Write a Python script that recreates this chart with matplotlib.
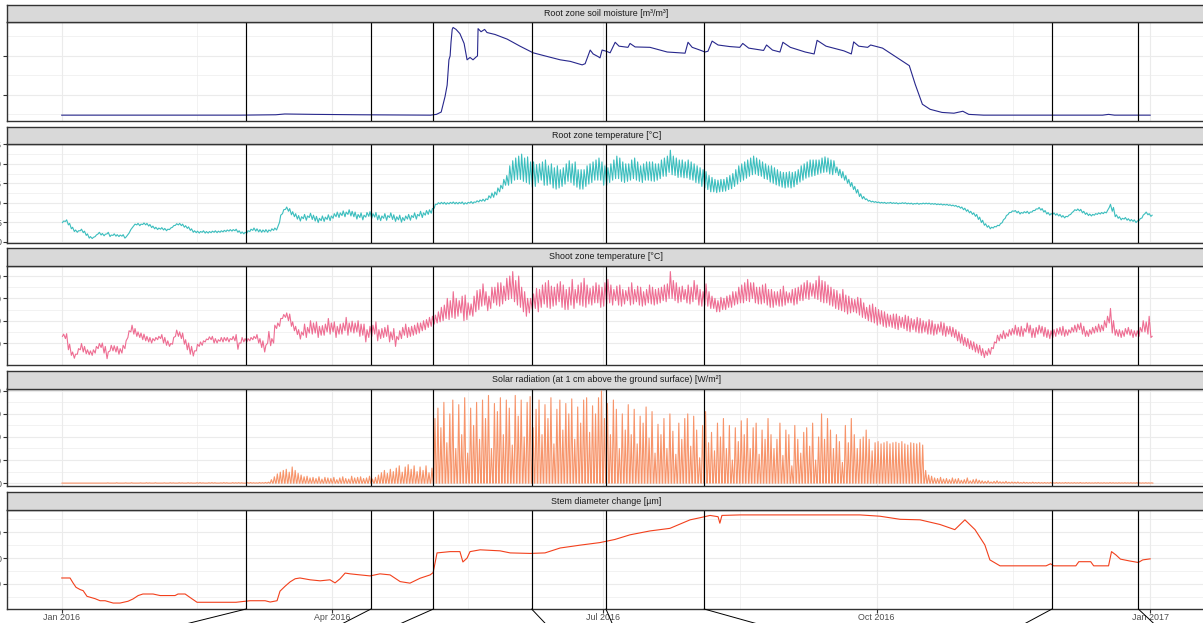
import numpy as np
import matplotlib
matplotlib.use("Agg")
import matplotlib.pyplot as plt
import matplotlib.dates as mdates
from matplotlib.ticker import FixedLocator, FixedFormatter

plt.rcParams['font.family'] = ['Liberation Sans', 'DejaVu Sans']

# ---------------------------------------------------------------- data
start_date = np.datetime64('2016-01-01T00:00')

panel_titles = [
    "Root zone soil moisture [m\u00b3/m\u00b3]",
    "Root zone temperature [\u00b0C]",
    "Shoot zone temperature [\u00b0C]",
    "Solar radiation (at 1 cm above the ground surface) [W/m\u00b2]",
    "Stem diameter change [\u00b5m]",
]

event_dates = ['2016-03-03', '2016-04-14', '2016-05-05', '2016-06-07',
               '2016-07-02', '2016-08-04', '2016-11-29', '2016-12-28']

x_tick_dates = ['2016-01-01', '2016-04-01', '2016-07-01', '2016-10-01', '2017-01-01']
x_tick_labels = ['Jan 2016', 'Apr 2016', 'Jul 2016', 'Oct 2016', 'Jan 2017']

# soil moisture (days since 2016-01-01, m3/m3)
soil_days = [0, 60, 72, 75, 85, 100, 124, 126, 127.6, 128.9, 129.6, 130.2, 130.6, 130.9,
             131.3, 131.6, 132.6, 133.9, 135.3, 136.3, 137.3, 138.3, 139.3, 139.8, 140.0,
             141.0, 142.2, 143.0, 145.7, 149.8, 154.1, 158.5, 162.5, 167.6, 171.0, 175.0,
             176.0, 177.7, 178.7, 180.4, 181.0, 181.7, 183.1, 184.4, 186.1, 187.4, 190.4,
             191.1, 192.8, 197.8, 203.6, 209.6, 210.6, 212.0, 214.6, 216.3, 217.3, 218.7,
             220.7, 224.6, 228, 229, 231, 236, 237, 239, 241.5, 242.5, 245, 250, 253, 254,
             257, 263, 265.5, 266.3, 268, 271, 272, 276, 282, 285, 287, 289.4, 292, 296,
             300, 303, 305, 310, 350, 352, 354, 366]
soil_vwc = [0.048, 0.048, 0.049, 0.051, 0.050, 0.049, 0.048, 0.050, 0.056, 0.096, 0.125,
            0.190, 0.200, 0.235, 0.268, 0.273, 0.268, 0.257, 0.232, 0.190, 0.196, 0.190,
            0.197, 0.200, 0.270, 0.262, 0.268, 0.260, 0.255, 0.243, 0.225, 0.208, 0.200,
            0.190, 0.186, 0.177, 0.180, 0.215, 0.205, 0.198, 0.195, 0.215, 0.212, 0.208,
            0.235, 0.225, 0.222, 0.232, 0.223, 0.222, 0.210, 0.207, 0.235, 0.222, 0.215,
            0.210, 0.212, 0.238, 0.228, 0.224, 0.222, 0.232, 0.220, 0.214, 0.228, 0.215,
            0.210, 0.235, 0.222, 0.210, 0.205, 0.240, 0.225, 0.213, 0.205, 0.236, 0.225,
            0.222, 0.228, 0.220, 0.190, 0.175, 0.127, 0.076, 0.063, 0.055, 0.053, 0.058,
            0.050, 0.048, 0.048, 0.050, 0.048, 0.048]

# root zone temperature: daily max and min from 2016-01-01 (degC)
root_tmax = [
    5.3, 5.6, 4.7, 3.7, 3.0, 2.8, 3.2, 2.7, 2.0, 1.3,
    1.1, 1.7, 2.4, 2.1, 1.9, 2.4, 1.7, 2.0, 1.8, 1.7,
    1.8, 1.2, 2.2, 3.5, 4.5, 4.7, 4.5, 4.8, 4.7, 4.4,
    4.0, 3.7, 3.5, 3.6, 3.4, 3.2, 3.5, 4.1, 4.6, 4.7,
    4.5, 4.1, 3.8, 3.3, 2.8, 2.7, 2.6, 2.8, 2.6, 2.6,
    2.7, 2.8, 2.7, 2.8, 2.9, 3.0, 3.1, 3.1, 3.2, 2.8,
    2.5, 2.4, 2.8, 3.2, 3.5, 3.3, 3.1, 3.0, 3.1, 3.0,
    3.3, 3.5, 3.8, 6.8, 8.2, 8.9, 8.5, 7.7, 7.2, 6.7,
    6.4, 7.0, 6.6, 7.3, 6.8, 6.5, 6.0, 6.6, 6.3, 6.9,
    6.6, 7.2, 7.6, 7.4, 7.9, 7.6, 8.2, 7.8, 7.6, 7.0,
    7.4, 6.8, 7.5, 7.7, 7.2, 7.5, 6.8, 6.6, 7.2, 6.7,
    7.4, 6.9, 6.4, 6.8, 6.2, 6.6, 7.0, 6.7, 7.4, 7.0,
    7.8, 7.4, 8.0, 8.2, 8.5, 9.6, 10.0, 10.1, 10.1, 10.0,
    10.1, 10.2, 10.1, 10.1, 10.2, 10.0, 10.1, 10.3, 10.2, 10.5,
    10.7, 10.9, 11.0, 11.8, 12.5, 12.8, 13.8, 14.5, 16.0, 17.0,
    19.5, 20.8, 21.5, 22.0, 22.5, 21.5, 21.8, 20.5, 20.5, 19.8,
    20.0, 20.5, 21.0, 19.5, 20.0, 19.0, 19.5, 18.5, 19.0, 20.0,
    20.8, 20.0, 20.5, 18.5, 18.5, 18.5, 19.5, 20.0, 20.5, 21.0,
    21.5, 20.5, 19.5, 19.0, 20.0, 21.0, 22.0, 21.5, 20.5, 20.0,
    20.0, 21.0, 21.5, 20.5, 19.5, 20.0, 20.5, 20.5, 20.5, 20.0,
    20.0, 21.0, 21.5, 22.0, 23.5, 22.0, 21.5, 21.0, 21.0, 20.5,
    21.0, 20.5, 20.0, 19.5, 19.0, 18.5, 18.0, 17.0, 16.5, 16.0,
    15.8, 16.0, 16.0, 16.5, 17.0, 17.5, 18.5, 19.5, 20.0, 20.5,
    21.0, 21.5, 22.0, 21.5, 21.0, 20.5, 20.0, 19.5, 19.5, 19.0,
    18.5, 18.0, 17.8, 17.8, 18.0, 17.8, 18.0, 18.5, 19.5, 20.0,
    20.5, 21.0, 21.0, 21.0, 21.0, 21.5, 21.8, 21.5, 21.0, 20.8,
    19.2, 18.6, 18.0, 17.0, 16.0, 15.2, 14.2, 13.4, 12.3, 11.6,
    11.0, 10.6, 10.4, 10.3, 10.2, 10.1, 10.1, 10.0, 10.1, 10.0,
    10.0, 9.9, 10.0, 10.0, 9.9, 9.9, 9.8, 9.9, 9.8, 9.9,
    9.9, 9.9, 9.8, 9.8, 9.7, 9.7, 9.6, 9.6, 9.5, 9.4,
    9.3, 9.1, 8.9, 8.6, 8.2, 7.8, 7.4, 7.0, 6.3, 5.5,
    4.6, 4.1, 3.7, 3.9, 4.2, 4.6, 5.6, 6.7, 7.5, 7.9,
    8.0, 7.8, 7.5, 7.7, 7.8, 7.6, 8.0, 8.4, 8.8, 8.5,
    8.0, 7.5, 7.2, 7.4, 7.2, 7.0, 6.7, 6.5, 6.8, 7.4,
    8.2, 8.4, 8.3, 7.8, 7.4, 7.1, 7.0, 7.2, 7.4, 7.5,
    7.6, 8.0, 9.6, 8.8, 6.9, 6.4, 6.0, 6.2, 5.9, 5.7,
    5.6, 5.3, 5.9, 6.8, 7.6, 7.2, 6.8,
]
root_tmin = [
    4.9, 5.2, 4.3, 3.3, 2.6, 2.4, 2.8, 2.3, 1.6, 0.9,
    0.8, 1.3, 2.0, 1.7, 1.5, 2.0, 1.3, 1.6, 1.4, 1.3,
    1.4, 0.9, 1.8, 3.1, 4.1, 4.3, 4.1, 4.4, 4.3, 4.0,
    3.6, 3.3, 3.1, 3.2, 3.0, 2.8, 3.1, 3.7, 4.2, 4.3,
    4.1, 3.7, 3.4, 2.9, 2.4, 2.3, 2.2, 2.4, 2.2, 2.2,
    2.3, 2.4, 2.3, 2.4, 2.5, 2.6, 2.7, 2.7, 2.8, 2.4,
    2.1, 2.0, 2.2, 2.6, 2.9, 2.7, 2.5, 2.4, 2.5, 2.4,
    2.7, 2.9, 3.0, 5.0, 7.2, 8.3, 7.8, 6.9, 6.4, 5.8,
    5.3, 5.9, 5.5, 6.2, 5.7, 5.3, 4.9, 5.4, 5.2, 5.7,
    5.4, 6.0, 6.4, 6.2, 6.7, 6.4, 7.0, 6.6, 6.4, 5.8,
    6.2, 5.6, 6.3, 6.5, 6.0, 6.3, 5.6, 5.4, 6.0, 5.5,
    6.2, 5.7, 5.2, 5.6, 5.0, 5.4, 5.8, 5.5, 6.2, 5.8,
    6.6, 6.2, 6.8, 7.0, 7.3, 8.6, 9.6, 9.7, 9.7, 9.6,
    9.7, 9.8, 9.7, 9.7, 9.8, 9.6, 9.7, 9.9, 9.8, 10.1,
    10.2, 10.4, 10.4, 10.8, 11.2, 11.4, 12.0, 12.8, 13.6, 14.5,
    14.5, 15.0, 15.8, 16.0, 16.0, 15.5, 15.2, 14.8, 14.0, 14.2,
    15.2, 15.8, 14.5, 14.5, 14.8, 13.8, 13.5, 13.8, 14.2, 14.8,
    15.5, 15.2, 14.5, 14.0, 13.5, 13.5, 14.2, 14.8, 15.2, 15.8,
    15.8, 15.8, 14.5, 14.5, 15.2, 15.8, 16.2, 16.2, 15.5, 15.2,
    15.5, 15.8, 16.2, 15.8, 15.5, 15.2, 15.8, 15.8, 15.6, 15.5,
    15.8, 16.2, 16.8, 16.8, 17.8, 17.2, 17.0, 16.5, 16.6, 16.4,
    16.4, 16.0, 15.8, 15.2, 15.0, 14.2, 13.8, 13.4, 12.8, 12.8,
    12.6, 12.8, 12.9, 13.0, 13.4, 13.6, 14.2, 14.8, 15.4, 15.8,
    16.3, 16.8, 17.2, 17.4, 17.0, 16.8, 16.2, 16.0, 15.3, 15.0,
    14.6, 14.3, 14.0, 13.8, 14.0, 13.8, 14.1, 14.7, 15.3, 15.8,
    16.3, 16.6, 16.8, 17.0, 17.3, 17.6, 17.8, 17.9, 17.4, 17.2,
    17.7, 17.0, 16.4, 15.8, 15.0, 14.2, 13.4, 12.5, 11.6, 11.0,
    10.8, 10.4, 10.2, 10.1, 10.0, 9.9, 9.9, 9.8, 9.9, 9.8,
    9.8, 9.7, 9.8, 9.8, 9.7, 9.7, 9.6, 9.7, 9.6, 9.7,
    9.7, 9.7, 9.6, 9.6, 9.5, 9.5, 9.4, 9.4, 9.3, 9.2,
    9.1, 8.9, 8.6, 8.2, 7.8, 7.4, 7.0, 6.5, 5.7, 4.9,
    4.2, 3.7, 3.3, 3.5, 3.8, 4.1, 4.9, 6.0, 7.0, 7.5,
    7.8, 7.4, 7.1, 7.3, 7.4, 7.2, 7.6, 8.0, 8.4, 8.1,
    7.6, 7.1, 6.8, 7.0, 6.8, 6.6, 6.3, 6.1, 6.4, 7.0,
    7.8, 8.0, 7.9, 7.4, 7.0, 6.7, 6.6, 6.8, 7.0, 7.1,
    7.2, 7.4, 8.8, 7.8, 6.4, 6.0, 5.6, 5.8, 5.5, 5.3,
    5.2, 4.9, 5.4, 6.1, 7.2, 6.9, 6.5,
]

# shoot zone temperature: daily max and min (degC)
shoot_tmax = [
    14.0, 14.2, 9.5, 6.0, 5.0, 7.5, 9.8, 8.5, 7.0, 6.5,
    7.0, 8.5, 9.8, 10.0, 8.5, 6.0, 9.0, 8.8, 8.5, 7.5,
    9.0, 11.0, 15.5, 18.0, 16.5, 15.0, 14.5, 14.0, 13.0, 12.5,
    12.0, 12.5, 13.0, 13.8, 12.5, 11.0, 9.8, 12.5, 15.8, 15.0,
    14.5, 11.5, 10.0, 8.5, 6.5, 9.5, 10.5, 11.0, 11.8, 12.8,
    13.0, 12.0, 11.5, 12.5, 12.5, 12.5, 12.0, 13.0, 13.8, 10.0,
    12.5, 12.0, 12.0, 12.5, 13.0, 13.8, 12.0, 11.0, 9.0, 15.2,
    12.0, 18.0, 19.0, 21.0, 22.8, 23.5, 23.0, 19.5, 17.5, 16.0,
    15.0, 18.5, 17.0, 20.0, 19.0, 19.5, 17.5, 17.8, 18.5, 21.0,
    19.0, 19.5, 17.5, 18.5, 19.0, 21.5, 19.0, 19.8, 19.0, 20.0,
    18.5, 18.5, 16.0, 17.5, 18.0, 19.5, 16.0, 16.5, 17.0, 18.0,
    15.0, 16.5, 13.0, 15.5, 17.0, 18.5, 17.0, 17.5, 18.0, 19.0,
    19.0, 20.0, 20.5, 21.5, 22.0, 22.5, 24.0, 26.0, 27.0, 30.0,
    29.0, 33.0, 30.0, 29.0, 31.0, 31.5, 28.0, 27.5, 31.0, 33.5,
    34.0, 36.5, 33.0, 31.0, 35.0, 35.0, 37.0, 37.0, 35.5, 39.0,
    40.0, 42.0, 38.0, 40.0, 35.0, 33.0, 30.0, 30.0, 32.0, 34.5,
    34.0, 36.0, 37.0, 38.0, 35.5, 35.0, 36.5, 37.5, 36.0, 34.0,
    35.0, 38.5, 34.0, 36.0, 37.0, 39.0, 36.0, 34.5, 35.5, 37.0,
    36.0, 35.0, 37.0, 38.5, 36.0, 34.0, 35.5, 36.0, 34.0, 33.5,
    35.0, 37.0, 34.0, 35.5, 35.0, 33.0, 34.0, 36.0, 35.0, 34.0,
    34.5, 35.0, 36.0, 36.5, 42.0, 38.0, 37.0, 35.0, 35.5, 34.0,
    36.0, 35.0, 38.0, 36.0, 34.0, 33.0, 36.5, 33.0, 31.0, 30.0,
    29.0, 30.5, 30.0, 31.0, 31.5, 33.0, 33.0, 35.0, 36.0, 37.0,
    38.5, 37.0, 37.0, 35.0, 35.0, 36.0, 36.5, 34.0, 34.0, 33.0,
    33.0, 34.0, 35.5, 33.0, 32.5, 34.0, 34.5, 35.0, 36.0, 37.0,
    38.0, 37.0, 36.5, 38.0, 40.0, 38.0, 37.5, 36.0, 35.0, 34.0,
    33.5, 32.0, 34.0, 31.5, 31.0, 30.0, 29.5, 30.5, 30.0, 28.0,
    26.0, 27.0, 27.5, 26.0, 25.0, 24.5, 24.0, 23.0, 22.5, 23.0,
    23.0, 22.0, 21.5, 22.5, 22.0, 21.0, 20.5, 21.5, 21.0, 20.0,
    19.5, 20.5, 20.0, 18.5, 18.5, 19.5, 19.0, 17.5, 17.5, 17.0,
    16.0, 15.0, 14.0, 12.5, 12.0, 11.0, 10.5, 9.5, 9.0, 7.5,
    6.5, 7.5, 8.0, 10.5, 13.5, 14.0, 15.5, 14.5, 16.0, 16.5,
    18.0, 17.0, 17.5, 16.5, 19.0, 18.0, 16.5, 17.0, 18.0, 17.5,
    17.0, 16.0, 15.5, 16.0, 16.5, 17.0, 17.5, 16.0, 16.0, 17.0,
    18.0, 18.5, 19.0, 17.5, 15.5, 16.0, 17.0, 17.5, 18.5, 18.0,
    20.0, 22.0, 25.5, 20.0, 16.0, 16.0, 15.5, 16.5, 17.0, 16.0,
    15.5, 15.5, 17.0, 20.0, 19.5, 22.0, 13.0,
]
shoot_tmin = [
    13.0, 12.0, 7.0, 4.5, 3.2, 5.0, 7.0, 6.0, 5.2, 4.8,
    4.5, 5.5, 7.5, 8.0, 5.5, 3.0, 6.5, 6.5, 6.0, 5.0,
    5.5, 7.5, 12.5, 15.0, 14.0, 13.0, 12.5, 11.5, 11.0, 10.5,
    10.0, 11.0, 11.5, 12.0, 10.0, 9.0, 8.5, 9.5, 13.0, 13.0,
    12.0, 9.5, 7.0, 5.0, 4.2, 6.5, 8.5, 9.0, 10.5, 11.5,
    11.5, 10.0, 10.0, 10.8, 10.5, 11.0, 10.5, 11.5, 11.0, 7.2,
    10.0, 10.5, 10.5, 11.0, 11.5, 12.0, 10.0, 8.0, 6.0, 10.0,
    8.8, 10.0, 16.5, 17.5, 21.0, 21.5, 20.0, 17.5, 15.5, 13.8,
    11.8, 13.5, 12.5, 14.5, 14.0, 14.5, 12.5, 13.5, 13.5, 15.0,
    14.0, 15.0, 12.5, 14.0, 14.0, 15.5, 13.5, 15.0, 14.5, 15.0,
    13.0, 13.5, 10.5, 12.5, 13.0, 14.0, 11.0, 12.0, 12.5, 13.0,
    10.5, 11.5, 8.5, 11.5, 12.0, 13.5, 12.5, 13.0, 13.5, 14.0,
    14.5, 15.5, 16.0, 17.0, 17.5, 18.5, 19.0, 19.5, 20.0, 21.0,
    20.5, 21.5, 21.0, 22.0, 23.5, 20.0, 20.5, 22.5, 22.0, 24.0,
    25.0, 26.5, 27.0, 24.5, 25.5, 28.0, 27.0, 26.5, 27.5, 29.0,
    29.5, 30.0, 28.5, 27.0, 26.0, 24.0, 22.0, 23.5, 25.0, 25.5,
    24.0, 26.0, 27.5, 26.0, 25.5, 26.5, 27.0, 28.5, 26.0, 25.0,
    25.0, 27.0, 25.5, 28.0, 27.0, 26.5, 26.0, 27.5, 27.0, 28.0,
    28.0, 26.0, 26.5, 27.5, 28.0, 27.0, 29.0, 27.0, 26.5, 27.5,
    29.0, 27.0, 27.5, 28.5, 27.0, 26.5, 27.0, 28.0, 27.5, 27.0,
    27.5, 28.0, 29.0, 28.5, 30.0, 30.0, 29.0, 28.0, 28.5, 29.5,
    28.0, 27.5, 28.5, 29.5, 27.0, 26.5, 27.0, 26.5, 25.5, 25.5,
    24.0, 24.0, 25.0, 25.0, 26.0, 26.0, 27.0, 27.5, 28.0, 28.0,
    29.0, 28.5, 30.0, 28.0, 27.5, 27.5, 28.0, 27.0, 26.0, 26.0,
    27.0, 26.5, 26.5, 27.0, 28.0, 28.0, 27.0, 27.5, 29.0, 29.0,
    30.0, 29.5, 31.0, 30.0, 29.5, 28.5, 28.0, 28.0, 27.0, 26.5,
    25.5, 25.0, 24.5, 24.0, 23.0, 23.5, 24.0, 23.5, 22.5, 21.5,
    21.0, 20.0, 19.5, 19.0, 18.0, 18.5, 17.5, 17.0, 17.5, 17.0,
    16.5, 16.0, 17.0, 16.5, 15.5, 15.0, 16.0, 15.0, 14.5, 14.5,
    15.0, 14.0, 14.0, 13.5, 14.0, 15.0, 13.5, 13.0, 14.0, 13.0,
    12.5, 11.0, 10.0, 9.0, 8.5, 7.5, 7.0, 6.0, 5.5, 4.5,
    3.5, 4.5, 5.0, 7.5, 10.0, 11.0, 12.0, 12.0, 13.0, 13.5,
    14.0, 13.5, 13.0, 13.0, 15.0, 14.5, 12.5, 12.5, 14.0, 14.5,
    13.0, 12.5, 12.0, 12.5, 13.0, 14.0, 13.5, 13.0, 13.5, 14.5,
    15.0, 15.0, 16.0, 14.0, 13.0, 13.0, 14.0, 14.5, 15.0, 15.0,
    15.5, 17.0, 19.0, 14.5, 13.5, 13.0, 12.5, 13.0, 14.0, 13.5,
    12.5, 13.0, 13.0, 15.0, 15.0, 14.0, 12.5,
]

# solar radiation: daily noon peak (W/m2); night-time value
solar_peak = [
    0, 0, 0, 0, 0, 0, 0, 0, 0, 0,
    0, 0, 0, 0, 0, 2, 0, 0, 3, 0,
    0, 2, 0, 3, 0, 0, 2, 0, 3, 2,
    0, 3, 0, 0, 2, 0, 3, 2, 0, 3,
    2, 0, 3, 2, 0, 3, 4, 2, 0, 3,
    4, 3, 0, 2, 4, 3, 0, 4, 3, 4,
    3, 0, 4, 5, 3, 2, 5, 4, 6, 8,
    30, 55, 80, 95, 110, 120, 95, 140, 110, 85,
    70, 55, 60, 45, 50, 40, 55, 35, 50, 45,
    40, 50, 30, 45, 55, 40, 35, 60, 45, 50,
    55, 40, 45, 60, 35, 50, 70, 90, 110, 85,
    120, 100, 130, 150, 95, 140, 160, 120, 150, 100,
    140, 110, 150, 90, 130, 560, 650, 480, 700, 350,
    600, 720, 300, 680, 420, 740, 260, 650, 500, 700,
    380, 720, 560, 760, 300, 690, 620, 740, 420, 720,
    650, 330, 760, 580, 720, 400, 700, 750, 480, 640,
    720, 420, 680, 560, 740, 340, 640, 720, 460, 690,
    600, 730, 380, 660, 520, 720, 740, 440, 670, 600,
    740, 800, 560, 690, 420, 720, 640, 300, 600, 460,
    680, 420, 640, 340, 580, 520, 660, 390, 620, 260,
    510, 420, 560, 300, 600, 450, 250, 520, 380, 560,
    600, 320, 580, 460, 220, 500, 620, 350, 440, 280,
    520, 400, 560, 300, 500, 200, 480, 360, 540, 420,
    560, 300, 480, 520, 250, 460, 380, 560, 420, 300,
    380, 520, 240, 460, 420, 150, 500, 380, 260, 440,
    480, 320, 520, 200, 400, 600, 380, 560, 460, 300,
    420, 360, 180, 500, 350, 560, 420, 300, 380, 400,
    460, 380, 280, 350, 360, 340, 350, 360, 340, 350,
    355, 345, 360, 340, 330, 350, 345, 340, 350, 330,
    110, 70, 60, 45, 40, 50, 35, 40, 30, 45,
    35, 40, 25, 30, 45, 20, 30, 35, 25, 20,
    15, 20, 10, 15, 20, 12, 10, 15, 8, 10,
    8, 10, 5, 8, 6, 5, 8, 5, 6, 4,
    5, 4, 6, 3, 5, 4, 3, 5, 4, 3,
    4, 3, 5, 2, 4, 3, 2, 3, 4, 2,
    3, 2, 4, 3, 2, 3, 2, 3, 2, 3,
    2, 3, 2, 2, 3, 2, 2,
]
solar_night = 0.0

# stem diameter change (days since 2016-01-01, um)
stem_days = [0, 2.8, 3.8, 4.8, 6.2, 7.2, 8.5, 11.2, 12.9, 14.6, 17.3, 19.6, 22.3, 24.0,
             25.7, 27.3, 30.7, 33.1, 38.1, 39.1, 41.5, 43.1, 45.5, 58.6, 63.3, 68.4,
             70.1, 72.4, 73.4, 75.1, 76.8, 78.5, 80.1, 83.5, 86.9, 90.2, 91.9, 93.6,
             95.3, 97.0, 100.3, 103.7, 107.0, 110.4, 113.8, 117.1, 120.5, 123.9, 124.9,
             126.2, 130.6, 133.9, 134.9, 136.3, 137.3, 140.7, 147.4, 150.8, 157.5, 162.5,
             167.6, 174.3, 181.0, 186.0, 191.1, 197.8, 204.5, 211.3, 214.6, 218.0, 220.7,
             221.3, 222.0, 228.1, 268.4, 275.1, 281.9, 288.6, 295.3, 300.3, 303.7, 307.1,
             310.4, 312.1, 315.5, 331, 332.5, 333.5, 341, 342, 346, 347, 352, 353, 354.5,
             356, 359, 362, 363.5, 366]
stem_change = [-77, -77, -96, -113, -122, -126, -148, -157, -165, -165, -174, -174, -167,
               -158, -145, -139, -139, -145, -145, -139, -139, -152, -171, -171, -165, -165,
               -170, -165, -128, -109, -92, -80, -77, -84, -88, -84, -96, -80, -58, -61,
               -65, -69, -61, -65, -91, -97, -78, -65, -56, 20, 25, 25, -15, 0, 25, 32, 28,
               20, 18, 20, 39, 50, 60, 72, 90, 105, 115, 148, 156, 165, 160, 135, 165, 167,
               167, 162, 150, 148, 130, 110, 148, 110, 51, -7, -30, -30, -22, -30, -30, -14,
               -14, -30, -30, 25, 12, -4, -11, -17, -7, -3]


# ---------------------------------------------------------------- helpers
def to_num(days):
    mins = np.round(np.asarray(days, dtype=float) * 1440).astype('timedelta64[m]')
    return mdates.date2num(start_date + mins)


def min_max_series(tmin, tmax):
    d = np.arange(len(tmin))
    t = np.column_stack([d + 0.25, d + 0.65]).ravel()
    v = np.column_stack([np.asarray(tmin, float), np.asarray(tmax, float)]).ravel()
    return to_num(t), v


solar_d = np.arange(len(solar_peak))
solar_t = np.column_stack([solar_d + 0.1, solar_d + 0.5, solar_d + 0.9]).ravel()
solar_v = np.column_stack([np.full(len(solar_peak), solar_night),
                           np.asarray(solar_peak, float),
                           np.full(len(solar_peak), solar_night)]).ravel()

root_t, root_v = min_max_series(root_tmin, root_tmax)
shoot_t, shoot_v = min_max_series(shoot_tmin, shoot_tmax)

series = [
    (to_num(soil_days), soil_vwc, '#27278C'),
    (root_t, root_v, '#3CBEBE'),
    (shoot_t, shoot_v, '#EE6E93'),
    (to_num(solar_t), solar_v, '#F7946A'),
    (to_num(stem_days), stem_change, '#F2401C'),
]

y_setup = [
    dict(lim=(0.033, 0.287), major=[0.1, 0.2], minor=[0.05, 0.15, 0.25], fmt='{:.1f}'),
    dict(lim=(-0.35, 25.1), major=[0, 5, 10, 15, 20, 25], minor=[2.5, 7.5, 12.5, 17.5, 22.5], fmt='{:.0f}'),
    dict(lim=(0.4, 44.5), major=[10, 20, 30, 40], minor=[5, 15, 25, 35], fmt='{:.0f}'),
    dict(lim=(-25, 820), major=[0, 200, 400, 600, 800], minor=[100, 300, 500, 700], fmt='{:.0f}'),
    dict(lim=(-197, 186), major=[-100, 0, 100], minor=[-150, -50, 50, 150], fmt='{:.0f}'),
]

# ---------------------------------------------------------------- layout (pixels)
W, H, DPI = 1203, 623, 100
panel_px = [(22, 121), (144, 243), (266, 364.5), (388.5, 486), (510, 609)]
strip_px = [(5, 22), (127, 144), (248, 266), (370.5, 388.5), (492, 510)]
left_px, right_px = 7, 1205.5
x_left_day, x_right_day = -18.4, 384.6

# diagonal connector directions (dx per px downwards)
connector_slope = [-4.02, -1.95, -2.25, 0.95, 0.43, 3.58, -1.86, 1.07]
connector_drop_px = 40

border_col = '#333333'
grid_col = '#EBEBEB'

fig = plt.figure(figsize=(W / DPI, H / DPI), dpi=DPI)
fig.patch.set_facecolor('white')


def fig_rect(top, bottom):
    return [left_px / W, 1 - bottom / H, (right_px - left_px) / W, (bottom - top) / H]


fs = 6.4
axes = []
xmin = to_num([x_left_day])[0]
xmax = to_num([x_right_day])[0]
major_x = [mdates.date2num(np.datetime64(d + 'T00:00')) for d in x_tick_dates]
minor_x = [(a + b) / 2 for a, b in zip(major_x[:-1], major_x[1:])]
minor_x = [major_x[0] - (minor_x[0] - major_x[0])] + minor_x + [major_x[-1] + (major_x[-1] - minor_x[-1])]
event_x = [mdates.date2num(np.datetime64(d + 'T00:00')) for d in event_dates]

for i in range(5):
    t, b = panel_px[i]
    ax = fig.add_axes(fig_rect(t, b))
    x, y, col = series[i]
    ax.plot(x, y, color=col, lw=0.8, zorder=3, solid_joinstyle='round')
    for ex in event_x:
        ax.axvline(ex, color='black', lw=0.85, zorder=4)
    cfg = y_setup[i]
    ax.set_ylim(*cfg['lim'])
    ax.set_xlim(xmin, xmax)
    ax.yaxis.set_major_locator(FixedLocator(cfg['major']))
    ax.yaxis.set_major_formatter(FixedFormatter([cfg['fmt'].format(v) for v in cfg['major']]))
    ax.yaxis.set_minor_locator(FixedLocator(cfg['minor']))
    ax.xaxis.set_major_locator(FixedLocator(major_x))
    ax.xaxis.set_minor_locator(FixedLocator(minor_x))
    ax.grid(which='major', color=grid_col, lw=0.8, zorder=0)
    ax.grid(which='minor', color=grid_col, lw=0.45, zorder=0)
    ax.set_axisbelow(True)
    for s in ax.spines.values():
        s.set_color(border_col)
        s.set_linewidth(1.0)
    ax.tick_params(axis='y', which='major', length=2.8, width=0.8, color=border_col,
                   labelsize=fs, labelcolor='#4D4D4D', pad=1.2)
    ax.tick_params(axis='both', which='minor', length=0)
    if i < 4:
        ax.tick_params(axis='x', which='major', length=0, labelbottom=False)
    else:
        ax.xaxis.set_major_formatter(FixedFormatter(x_tick_labels))
        ax.tick_params(axis='x', which='major', length=2.6, width=0.8, color=border_col,
                       labelsize=fs, labelcolor='#4D4D4D', pad=0.6)
    axes.append(ax)

    st, sb = strip_px[i]
    sax = fig.add_axes(fig_rect(st, sb))
    sax.set_facecolor('#D9D9D9')
    sax.set_xticks([])
    sax.set_yticks([])
    for s in sax.spines.values():
        s.set_color(border_col)
        s.set_linewidth(1.0)
    sax.text(0.5, 0.5, panel_titles[i], ha='center', va='center', fontsize=fs,
             color='#1A1A1A', transform=sax.transAxes)

# connectors below the bottom panel
ax5 = axes[-1]
for ex, slope in zip(event_x, connector_slope):
    dx_pt = slope * connector_drop_px * 72 / DPI
    dy_pt = -connector_drop_px * 72 / DPI
    ax5.annotate('', xy=(ex, 0), xycoords=('data', 'axes fraction'),
                 xytext=(dx_pt, dy_pt), textcoords='offset points',
                 arrowprops=dict(arrowstyle='-', color='black', lw=0.7,
                                 shrinkA=0, shrinkB=0),
                 annotation_clip=False)

fig.savefig('out.png', dpi=DPI)
